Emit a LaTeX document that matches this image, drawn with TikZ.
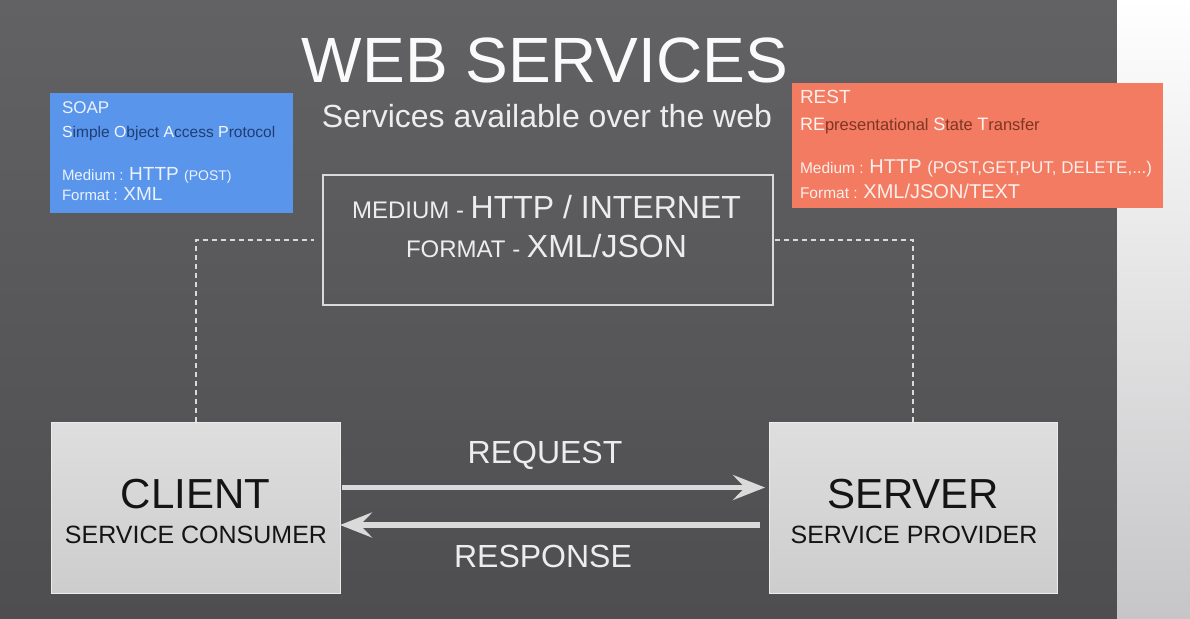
\documentclass[tikz,border=0pt]{standalone}
\usepackage{fontspec}
\usepackage{graphicx}
\setmainfont{Liberation Sans}
\usetikzlibrary{arrows.meta}

\definecolor{bgtop}{HTML}{626264}
\definecolor{bgbot}{HTML}{4E4E50}
\definecolor{stripbot}{HTML}{C6C6C8}
\definecolor{soapblue}{HTML}{5A95EC}
\definecolor{soapdark}{HTML}{203E74}
\definecolor{restcoral}{HTML}{F27B61}
\definecolor{restdark}{HTML}{7E3526}
\definecolor{boxtop}{HTML}{DEDEDE}
\definecolor{boxbot}{HTML}{CDCDCD}
\definecolor{linegray}{HTML}{DADADA}
\definecolor{lighttext}{HTML}{EDEDED}

\newcommand{\setfs}[1]{\fontsize{#1}{#1}\selectfont}
% initials and small letters of the expanded acronyms
\newcommand{\soapcap}[1]{{\color{white!92!soapblue}\setfs{16}#1}}
\newcommand{\soaplow}[1]{{\color{soapdark}\setfs{15.5}#1}}
\newcommand{\restcap}[1]{{\color{white!92!restcoral}\setfs{18}#1}}
\newcommand{\restlow}[1]{{\color{restdark}\setfs{16.5}#1}}

\tikzset{
  every node/.style={inner sep=0pt, outer sep=0pt},
  panel/.style={anchor=north west, minimum width=#1},
  mainbox/.style={draw=boxtop!60!white, line width=0.8pt,
    top color=boxtop, bottom color=boxbot,
    minimum width=289pt, minimum height=171pt},
  darktxt/.style={anchor=base, text=black!92},
  lighttxt/.style={anchor=base, text=lighttext},
  soaptxt/.style={anchor=base west, text=white!88!soapblue},
  resttxt/.style={anchor=base west, text=white!88!restcoral},
  link/.style={draw=linegray, line width=2pt, dash pattern=on 5pt off 4pt},
  flow/.style={draw=linegray, line width=5.5pt,
    -{Stealth[length=32pt, width=25pt, inset=12pt]}}
}

\begin{document}
\begin{tikzpicture}[x=1pt, y=-1pt]
\useasboundingbox (0,0) rectangle (1190,618);

% slide background and the pale strip at the right
\shade[top color=bgtop, bottom color=bgbot] (0,0) rectangle (1117,618);
\shade[top color=white, middle color=white, bottom color=stripbot] (1117,0) rectangle (1190,618);

% heading
\node[lighttxt, text=white!96!gray] (title) at (545,82) {\setfs{64}WEB SERVICES};
\node[lighttxt] (subtitle) at (547,127) {\setfs{32}Services available over the web};

% SOAP panel
\node[panel=243pt, minimum height=120pt, fill=soapblue] (soap) at (50,93) {};
\node[soaptxt] (soapname) at (62,113) {\setfs{17}SOAP};
\node[soaptxt] (soapfull) at (62,137)
  {\soapcap{S}\soaplow{imple }\soapcap{O}\soaplow{bject }\soapcap{A}\soaplow{ccess }\soapcap{P}\soaplow{rotocol}};
\node[soaptxt] (soapmed) at (62,180)
  {{\setfs{15}Medium : }{\setfs{19}HTTP }{\setfs{14}(POST)}};
\node[soaptxt] (soapfmt) at (62,200)
  {{\setfs{15}Format : }{\setfs{19}XML}};

% REST panel
\node[panel=371pt, minimum height=125pt, fill=restcoral] (rest) at (792,83) {};
\node[resttxt] (restname) at (800,103) {\setfs{19}REST};
\node[resttxt] (restfull) at (800,130)
  {\restcap{RE}\restlow{presentational }\restcap{S}\restlow{tate }\restcap{T}\restlow{ransfer}};
\node[resttxt] (restmed) at (800,173)
  {{\setfs{15.5}Medium : }{\setfs{20}HTTP }{\setfs{17}(POST,GET,PUT, DELETE,...)}};
\node[resttxt] (restfmt) at (800,198)
  {{\setfs{15.5}Format : }{\setfs{20}XML/JSON/TEXT}};

% medium / format box
\node[draw=linegray, line width=1.6pt, minimum width=450pt, minimum height=130pt] (medium) at (548,240) {};
\node[lighttxt] (mediumline) at (546.5,218)
  {{\setfs{24}MEDIUM - }{\setfs{32}HTTP / INTERNET}};
\node[lighttxt] (formatline) at (546.5,257)
  {{\setfs{24}FORMAT - }{\setfs{32}XML/JSON}};

% client and server
\node[mainbox] (client) at (195.5,507.5) {};
\node[darktxt] (clientname) at (195.5,508) {\setfs{42}CLIENT};
\node[darktxt] (clientrole) at (196,543) {\setfs{25}SERVICE CONSUMER};

\node[mainbox, minimum width=288pt] (server) at (913,507.5) {};
\node[darktxt] (servername) at (913,508) {\setfs{42}SERVER};
\node[darktxt] (serverrole) at (914,543) {\setfs{25}SERVICE PROVIDER};

% dashed links to the medium box
\draw[link] (client.north) |- ([xshift=-9pt]medium.west);
\draw[link] ([xshift=2pt]medium.east) -| (server.north);

% request and response
\draw[flow, shorten <=2pt, shorten >=4pt] ([yshift=20pt]client.east) -- ([yshift=20pt]server.west);
\draw[flow, shorten <=9pt] ([yshift=-17.5pt]server.west) -- ([yshift=-17.5pt]client.east);
\node[lighttxt] (reqlabel) at (545,463) {\setfs{32}REQUEST};
\node[lighttxt] (resplabel) at (543,567) {\setfs{32}RESPONSE};

\end{tikzpicture}
\end{document}
